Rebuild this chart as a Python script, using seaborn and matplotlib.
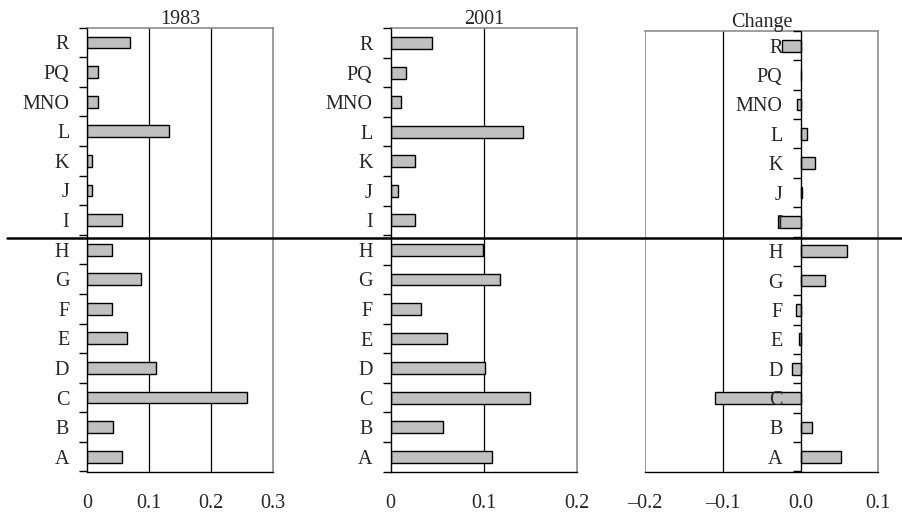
import matplotlib
matplotlib.use("Agg")
import matplotlib.pyplot as plt
from matplotlib.lines import Line2D
from matplotlib.ticker import FixedLocator
import seaborn as sns
import pandas as pd
import numpy as np

categories = ["R", "PQ", "MNO", "L", "K", "J", "I", "H", "G", "F", "E", "D", "C", "B", "A"]
share_1983 = [0.0686, 0.0168, 0.0168, 0.1327, 0.0081, 0.0081, 0.0561,
              0.0395, 0.0869, 0.0395, 0.0637, 0.1117, 0.2590, 0.0420, 0.0561]
share_2001 = [0.0439, 0.0168, 0.0111, 0.1415, 0.0264, 0.0082, 0.0264,
              0.0986, 0.1168, 0.0329, 0.0604, 0.1011, 0.1497, 0.0565, 0.1083]
change = [-0.0246, 0.0, -0.0050, 0.0087, 0.0184, 0.0012, -0.0290,
          0.0594, 0.0310, -0.0055, -0.0025, -0.0112, -0.1098, 0.0148, 0.0518]

titles = ["1983", "2001", "Change"]
xticks_1 = [0, 0.1, 0.2, 0.3]
xlabels_1 = ["0", "0.1", "0.2", "0.3"]
xticks_2 = [0, 0.1, 0.2]
xlabels_2 = ["0", "0.1", "0.2"]
xticks_3 = [-0.2, -0.1, 0.0, 0.1]
xlabels_3 = ["\u20130.2", "\u20130.1", "0.0", "0.1"]

sns.set_theme(style="white")
plt.rcParams["font.family"] = ["Liberation Serif", "DejaVu Serif"]
plt.rcParams["axes.axisbelow"] = False
FS = 14.5
plt.rcParams["font.size"] = FS

W, H = 902, 515
fig = plt.figure(figsize=(W / 100, H / 100), dpi=100)

def ax_rect(left, right, top, bottom):
    return [left / W, 1 - bottom / H, (right - left) / W, (bottom - top) / H]

ax1 = fig.add_axes(ax_rect(87.3, 272.7, 27.7, 471.5))
ax2 = fig.add_axes(ax_rect(390.7, 577.3, 28.3, 471.5))
ax3 = fig.add_axes(ax_rect(645.3, 878.3, 31.0, 471.5))

panels = [
    (ax1, share_1983, (0, 0.3), xticks_1, xlabels_1),
    (ax2, share_2001, (0, 0.2), xticks_2, xlabels_2),
    (ax3, change, (-0.2, 0.1), xticks_3, xlabels_3),
]

gray = "#8c8c8c"
for i, (ax, vals, xlim, xt, xl) in enumerate(panels):
    df = pd.DataFrame({"cat": categories, "val": vals})
    sns.barplot(data=df, x="val", y="cat", order=categories, orient="h",
                color="#c0c0c0", saturation=1, width=0.4,
                edgecolor="black", linewidth=1.0, ax=ax)
    ax.set_axisbelow(False)
    ax.set_xlim(*xlim)
    ax.set_ylim(len(categories) - 0.5, -0.5)
    ax.set_xlabel("")
    ax.set_ylabel("")
    ax.set_title(titles[i], fontsize=FS, pad=3)
    # interior gridlines
    for t in xt:
        if xlim[0] < t < xlim[1] and t != 0:
            ax.axvline(t, color="black", lw=0.9, zorder=0)
    ax.set_xticks(xt)
    ax.set_xticklabels(xl)
    ax.tick_params(axis="x", which="major", direction="out", length=5,
                   width=1, color="black", pad=11, labelsize=FS)
    # y ticks: labels at categories, marks at boundaries
    ax.yaxis.set_minor_locator(FixedLocator(np.arange(-0.5, len(categories), 1.0)))
    ax.tick_params(axis="y", which="major", length=0, pad=13, labelsize=FS)
    ax.tick_params(axis="y", which="minor", direction="out", length=6,
                   width=1, color="black", left=True)
    for s in ["top", "right"]:
        ax.spines[s].set_visible(True)
        ax.spines[s].set_color(gray)
        ax.spines[s].set_linewidth(1.2)
    ax.spines["bottom"].set_color("black")
    ax.spines["bottom"].set_linewidth(1.0)
    ax.spines["left"].set_color("black")
    ax.spines["left"].set_linewidth(1.0)
    ax.grid(False)

# Change panel: y axis at zero, gray frame on the left
ax3.spines["left"].set_position(("data", 0))
ax3.axvline(-0.2, color=gray, lw=1.2, zorder=0)

# divider line across the figure
ydiv = 1 - 238.3 / H
fig.add_artist(Line2D([7 / W, 1.0], [ydiv, ydiv], color="black", lw=1.8))

fig.savefig("out.png", dpi=100)
